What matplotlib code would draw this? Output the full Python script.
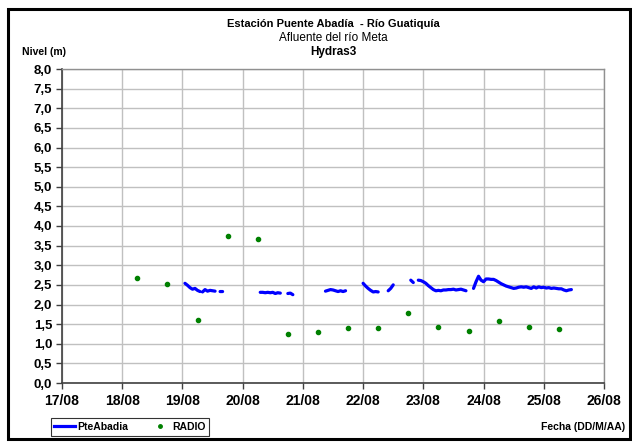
import matplotlib
matplotlib.use("Agg")
import matplotlib.pyplot as plt
import pandas as pd
import numpy as np
from matplotlib.patches import Rectangle
from matplotlib.lines import Line2D

plt.rcParams['font.family'] = ['Liberation Sans', 'DejaVu Sans']

# ---------------- data ----------------
title_1 = "Estación Puente Abadía  - Río Guatiquía"
title_2 = "Afluente del río Meta"
title_3 = "Hydras3"
y_label = "Nivel (m)"
x_label = "Fecha (DD/M/AA)"
series_line = "PteAbadia"
series_dots = "RADIO"

# PteAbadia level (m); None marks a gap in the record
line_times = [
    "2009-08-19 01:00", "2009-08-19 02:00", "2009-08-19 03:00", "2009-08-19 04:00",
    "2009-08-19 05:00", "2009-08-19 06:00", "2009-08-19 07:00", "2009-08-19 07:30",
    "2009-08-19 08:00", "2009-08-19 09:00", "2009-08-19 10:00", "2009-08-19 11:00",
    "2009-08-19 12:00", "2009-08-19 13:00", "2009-08-19 14:00",
    "2009-08-19 15:00", "2009-08-19 16:00", "2009-08-19 17:00",
    "2009-08-20 07:00", "2009-08-20 08:00", "2009-08-20 09:00", "2009-08-20 10:00",
    "2009-08-20 11:00", "2009-08-20 12:00", "2009-08-20 13:00", "2009-08-20 14:00",
    "2009-08-20 15:00", "2009-08-20 16:00",
    "2009-08-20 18:00", "2009-08-20 19:00", "2009-08-20 20:00", "2009-08-20 21:00",
    "2009-08-21 09:00", "2009-08-21 10:00", "2009-08-21 11:00", "2009-08-21 12:00",
    "2009-08-21 13:00", "2009-08-21 14:00", "2009-08-21 15:00", "2009-08-21 16:00",
    "2009-08-21 17:00", "2009-08-21 18:00",
    "2009-08-22 00:00", "2009-08-22 01:00", "2009-08-22 02:00", "2009-08-22 03:00",
    "2009-08-22 04:00", "2009-08-22 05:00", "2009-08-22 06:00", "2009-08-22 07:00",
    "2009-08-22 10:00", "2009-08-22 11:00", "2009-08-22 12:00", "2009-08-22 13:00",
    "2009-08-22 19:00", "2009-08-22 20:00", "2009-08-22 21:00",
    "2009-08-22 22:00", "2009-08-22 23:00", "2009-08-23 00:00", "2009-08-23 01:00",
    "2009-08-23 02:00", "2009-08-23 03:00", "2009-08-23 04:00", "2009-08-23 05:00",
    "2009-08-23 06:00", "2009-08-23 07:00", "2009-08-23 08:00", "2009-08-23 09:00",
    "2009-08-23 10:00", "2009-08-23 11:00", "2009-08-23 12:00", "2009-08-23 13:00",
    "2009-08-23 14:00", "2009-08-23 15:00", "2009-08-23 16:00", "2009-08-23 17:00",
    "2009-08-23 18:00",
    "2009-08-23 20:00", "2009-08-23 21:00", "2009-08-23 22:00", "2009-08-23 23:00",
    "2009-08-24 00:00", "2009-08-24 01:00", "2009-08-24 02:00", "2009-08-24 03:00",
    "2009-08-24 04:00", "2009-08-24 05:00", "2009-08-24 06:00", "2009-08-24 07:00",
    "2009-08-24 08:00", "2009-08-24 09:00", "2009-08-24 10:00", "2009-08-24 11:00",
    "2009-08-24 12:00", "2009-08-24 13:00", "2009-08-24 14:00", "2009-08-24 15:00",
    "2009-08-24 16:00", "2009-08-24 17:00", "2009-08-24 18:00", "2009-08-24 19:00",
    "2009-08-24 20:00", "2009-08-24 21:00", "2009-08-24 22:00", "2009-08-24 23:00",
    "2009-08-25 00:00", "2009-08-25 01:00", "2009-08-25 02:00", "2009-08-25 03:00",
    "2009-08-25 04:00", "2009-08-25 05:00", "2009-08-25 06:00", "2009-08-25 07:00",
    "2009-08-25 08:00", "2009-08-25 09:00", "2009-08-25 10:00", "2009-08-25 11:00",
]
line_values = [
    2.54, 2.49, 2.43, 2.39,
    2.41, 2.36, 2.33, None,
    2.32, 2.38, 2.34, 2.36,
    2.35, 2.34, None,
    2.33, 2.33, None,
    2.31, 2.31, 2.30, 2.31,
    2.30, 2.31, 2.28, 2.30,
    2.29, None,
    2.28, 2.29, 2.25, None,
    2.34, 2.36, 2.38, 2.37,
    2.35, 2.33, 2.35, 2.33,
    2.35, None,
    2.54, 2.47, 2.41, 2.36,
    2.32, 2.33, 2.32, None,
    2.35, 2.41, 2.50, None,
    2.62, 2.56, None,
    2.62, 2.61, 2.58, 2.54,
    2.48, 2.43, 2.38, 2.35,
    2.36, 2.35, 2.37, 2.37,
    2.38, 2.38, 2.39, 2.37,
    2.38, 2.39, 2.37, 2.35,
    None,
    2.41, 2.58, 2.72, 2.62,
    2.58, 2.65, 2.65, 2.64,
    2.64, 2.61, 2.57, 2.53,
    2.50, 2.47, 2.45, 2.43,
    2.41, 2.42, 2.44, 2.45,
    2.44, 2.45, 2.43, 2.41,
    2.45, 2.42, 2.45, 2.43,
    2.44, 2.42, 2.43, 2.41,
    2.42, 2.41, 2.40, 2.40,
    2.37, 2.35, 2.37, 2.38,
]

# RADIO readings (m)
radio_times = [
    "2009-08-18 06:00", "2009-08-18 18:00", "2009-08-19 06:00", "2009-08-19 18:00",
    "2009-08-20 06:00", "2009-08-20 18:00", "2009-08-21 06:00", "2009-08-21 18:00",
    "2009-08-22 06:00", "2009-08-22 18:00", "2009-08-23 06:00", "2009-08-23 18:00",
    "2009-08-24 06:00", "2009-08-24 18:00", "2009-08-25 06:00",
]
radio_values = [2.68, 2.52, 1.60, 3.74, 3.68, 1.24, 1.31, 1.40,
                1.40, 1.79, 1.42, 1.32, 1.58, 1.43, 1.37]

x_ticks = ["2009-08-17", "2009-08-18", "2009-08-19", "2009-08-20", "2009-08-21",
           "2009-08-22", "2009-08-23", "2009-08-24", "2009-08-25", "2009-08-26"]
x_tick_labels = ["17/08", "18/08", "19/08", "20/08", "21/08",
                 "22/08", "23/08", "24/08", "25/08", "26/08"]
y_ticks = [0.0, 0.5, 1.0, 1.5, 2.0, 2.5, 3.0, 3.5, 4.0, 4.5, 5.0, 5.5, 6.0, 6.5, 7.0, 7.5, 8.0]
y_tick_labels = [f"{v:.1f}".replace(".", ",") for v in y_ticks]

# ---------------- figure ----------------
W, H = 632, 442
fig = plt.figure(figsize=(W / 100, H / 100), dpi=100)
fig.patch.set_facecolor("white")

ax = fig.add_axes([62 / W, 1 - 383 / H, (604 - 62) / W, (383 - 69) / H])

lt = pd.to_datetime(line_times)
lv = np.array([np.nan if v is None else v for v in line_values], dtype=float)
ax.plot(lt, lv, color="#0000FF", lw=2.3, solid_capstyle="round", solid_joinstyle="round",
        zorder=3)
ax.plot(pd.to_datetime(radio_times), radio_values, ls="none", marker="o", ms=3.0,
        color="#008000", mec="#008000", zorder=4)

xt = pd.to_datetime(x_ticks)
ax.set_xlim(xt[0], xt[-1])
ax.set_ylim(0, 8)
ax.set_xticks(xt)
ax.set_xticklabels(x_tick_labels, fontsize=10, fontweight="bold")
ax.set_yticks(y_ticks)
ax.set_yticklabels(y_tick_labels, fontsize=9.5, fontweight="bold")
ax.grid(True, color="#c0c0c0", lw=1.0)
ax.set_axisbelow(True)
ax.tick_params(axis="both", direction="out", length=4, width=1, color="#404040")
ax.tick_params(axis="x", pad=4)
ax.tick_params(axis="y", pad=3)
for s in ["left", "bottom"]:
    ax.spines[s].set_color("#404040")
    ax.spines[s].set_linewidth(1.2)
for s in ["top", "right"]:
    ax.spines[s].set_color("#909090")
    ax.spines[s].set_linewidth(1.0)

# titles
cx = 333 / W
fig.text(cx, 1 - 24 / H, title_1, ha="center", va="center", fontsize=8.0, fontweight="bold")
fig.text(cx, 1 - 38 / H, title_2, ha="center", va="center", fontsize=8.5)
fig.text(cx, 1 - 52 / H, title_3, ha="center", va="center", fontsize=8.5, fontweight="bold")
fig.text(22 / W, 1 - 52 / H, y_label, ha="left", va="center", fontsize=7.5, fontweight="bold")
fig.text(625 / W, 1 - 427 / H, x_label, ha="right", va="center", fontsize=7.5, fontweight="bold")

# legend
handles = [Line2D([], [], color="#0000FF", lw=2.3),
           Line2D([], [], ls="none", marker="o", ms=2.5, color="#008000")]
leg = fig.legend(handles, [series_line, series_dots], loc="center",
                 bbox_to_anchor=(130 / W, 1 - 427 / H), ncol=2, frameon=True,
                 prop={"size": 7.5, "weight": "bold"}, handlelength=2.0,
                 handletextpad=0.2, columnspacing=2.0, borderpad=0.35,
                 fancybox=False, borderaxespad=0)
leg.get_frame().set_edgecolor("black")
leg.get_frame().set_linewidth(0.8)

# outer border
fig.patches.append(Rectangle((7.5 / W, 1 - 439 / H), (630 - 7.5) / W, (439 - 9) / H,
                             transform=fig.transFigure, fill=False, ec="black", lw=2.2))

fig.savefig("out.png", dpi=100)
